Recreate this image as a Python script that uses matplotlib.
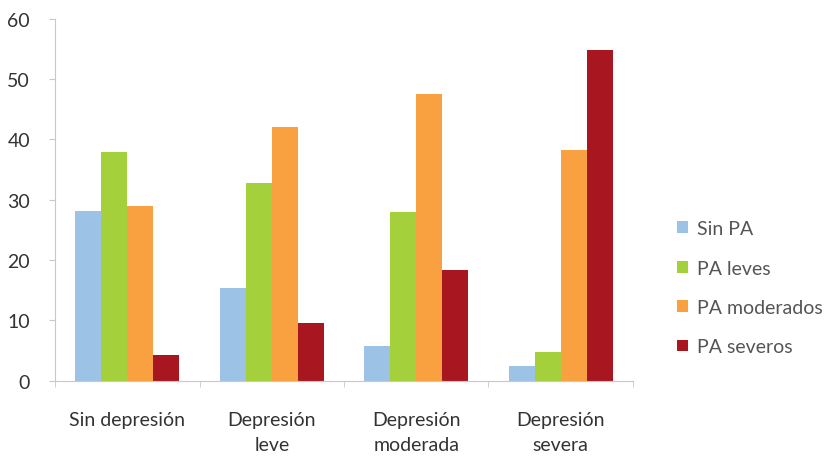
import numpy as np
import matplotlib
matplotlib.use("Agg")
from matplotlib import pyplot as plt

# grupos de depresión y series de problemas de aprendizaje (PA)
grupos = ["Sin depresión", "Depresión\nleve", "Depresión\nmoderada", "Depresión\nsevera"]
series = ["Sin PA", "PA leves", "PA moderados", "PA severos"]
sin_pa = [28.2, 15.3, 5.8, 2.4]
pa_leves = [38.0, 32.7, 28.0, 4.8]
pa_moderados = [29.0, 42.1, 47.6, 38.2]
pa_severos = [4.2, 9.6, 18.4, 54.8]
colores = ["#9cc3e5", "#a4d03c", "#f9a040", "#a8171f"]

plt.rcParams['font.family'] = ['Lato', 'DejaVu Sans']

fig = plt.figure(figsize=(8.35, 4.6), dpi=100)
ax = fig.add_axes([0.066, 0.170, 0.692, 0.787])

x = np.arange(len(grupos))
ancho = 0.18
valores = [sin_pa, pa_leves, pa_moderados, pa_severos]
for i, (nombre, vals, c) in enumerate(zip(series, valores, colores)):
    ax.bar(x + (i - 1.5) * ancho, vals, ancho, color=c, label=nombre)

ax.set_xlim(-0.5, 3.5)
ax.set_ylim(0, 60)
ax.set_yticks(range(0, 61, 10))
ax.set_xticks(x)
ax.set_xticklabels(grupos, linespacing=1.55)
ax.set_xticks(np.arange(-0.5, 3.6, 1), minor=True)

for lado in ["top", "right"]:
    ax.spines[lado].set_visible(False)
for lado in ["left", "bottom"]:
    ax.spines[lado].set_color("#c8c8c8")

ax.tick_params(axis="x", which="major", length=0, pad=22, labelsize=14, labelcolor="#333333")
ax.tick_params(axis="x", which="minor", length=4, color="#c8c8c8")
ax.tick_params(axis="y", length=4, color="#c8c8c8", pad=14, labelsize=14, labelcolor="#333333")

ax.legend(loc="center left", bbox_to_anchor=(1.06, 0.257), frameon=False,
          fontsize=14, labelcolor="#555555", handlelength=0.55, handleheight=0.55,
          handletextpad=0.45, labelspacing=1.15, borderpad=0)

fig.savefig("out.png", dpi=100)
